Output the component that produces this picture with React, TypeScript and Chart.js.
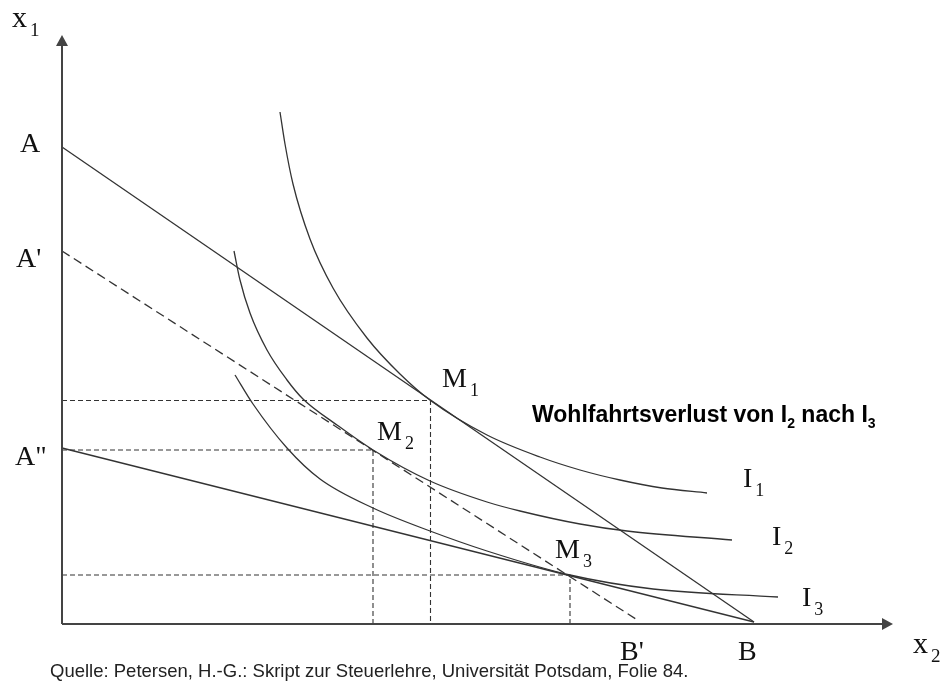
import React, { useEffect, useRef } from "react";
import { Chart, registerables } from "chart.js";

Chart.register(...registerables);

// ---- Data (x = quantity x2, y = quantity x1) ----
const lineAB = [ { x: 0, y: 47.7 }, { x: 69.2, y: 0.2 } ];
const lineApBp = [ { x: 0, y: 37.3 }, { x: 57.7, y: 0.3 } ];
const lineAppB = [ { x: 0, y: 17.6 }, { x: 69.2, y: 0.2 } ];

const I1x = [21.8, 22.3, 23.1, 24.8, 27.1, 30.5, 33.8, 36.85, 42.5, 47.8, 51.8, 55.8, 60.0, 64.5];
const I1y = [51.2, 48.0, 44.0, 38.5, 33.6, 28.6, 25.0, 22.35, 18.9, 16.7, 15.4, 14.4, 13.6, 13.1];

const I2x = [17.2, 17.8, 18.8, 20.5, 22.5, 24.1, 27.5, 31.1, 36.8, 42.5, 45.8, 51.8, 56.5, 67.0];
const I2y = [37.3, 34.4, 31.1, 27.4, 24.4, 22.5, 19.9, 17.4, 14.3, 12.2, 11.3, 10.0, 9.3, 8.4];

const I3x = [17.3, 19.1, 22.5, 25.8, 31.1, 36.8, 42.5, 50.8, 59.1, 71.6];
const I3y = [24.9, 22.0, 17.6, 14.5, 11.6, 9.3, 7.3, 4.9, 3.5, 2.7];

const optimaNames = ["M1", "M2", "M3"];
const optimaX = [36.85, 31.1, 50.8];
const optimaY = [22.35, 17.4, 4.9];

const axisXEnd = 83.1;
const axisYEnd = 58.9;

const toPts = (xs: number[], ys: number[]) => xs.map((x, i) => ({ x, y: ys[i] }));

// ---- Styles ----
const INK = "#333333";
const AXIS = "#444444";
const SERIF = '"Liberation Serif", "Times New Roman", serif';
const SANS = '"Liberation Sans", Arial, sans-serif';

type Lbl = { base: string; sub?: string; x: number; y: number; size?: number };
// label positions in canvas pixels (left, baseline)
const labels: Lbl[] = [
  { base: "x", sub: "1", x: 12, y: 27, size: 30 },
  { base: "A", x: 20, y: 152 },
  { base: "A'", x: 16, y: 267 },
  { base: "A\"", x: 15, y: 465 },
  { base: "M", sub: "1", x: 442, y: 387 },
  { base: "M", sub: "2", x: 377, y: 440 },
  { base: "M", sub: "3", x: 555, y: 558 },
  { base: "I", sub: "1", x: 743, y: 487 },
  { base: "I", sub: "2", x: 772, y: 545 },
  { base: "I", sub: "3", x: 802, y: 606 },
  { base: "B'", x: 620, y: 660 },
  { base: "B", x: 738, y: 660 },
  { base: "x", sub: "2", x: 913, y: 653, size: 30 },
];

const overlay = {
  id: "overlay",
  afterDatasetsDraw(chart: any) {
    const ctx = chart.ctx as CanvasRenderingContext2D;
    const xs = chart.scales.x;
    const ys = chart.scales.y;
    const ox = xs.getPixelForValue(0);
    const oy = ys.getPixelForValue(0);
    ctx.save();
    // arrow heads
    ctx.fillStyle = AXIS;
    const ty = ys.getPixelForValue(axisYEnd);
    ctx.beginPath();
    ctx.moveTo(ox, ty);
    ctx.lineTo(ox - 6, ty + 11);
    ctx.lineTo(ox + 6, ty + 11);
    ctx.closePath();
    ctx.fill();
    const tx = xs.getPixelForValue(axisXEnd);
    ctx.beginPath();
    ctx.moveTo(tx, oy);
    ctx.lineTo(tx - 11, oy - 6);
    ctx.lineTo(tx - 11, oy + 6);
    ctx.closePath();
    ctx.fill();

    // serif labels
    ctx.fillStyle = "#111111";
    ctx.textBaseline = "alphabetic";
    ctx.textAlign = "left";
    for (const l of labels) {
      const size = l.size ?? 28;
      ctx.font = `${size}px ${SERIF}`;
      ctx.fillText(l.base, l.x, l.y);
      if (l.sub) {
        const w = ctx.measureText(l.base).width;
        ctx.font = `${Math.round(size * 0.64)}px ${SERIF}`;
        ctx.fillText(l.sub, l.x + w + 3, l.y + 9);
      }
    }

    // bold annotation
    const parts: [string, boolean][] = [
      ["Wohlfahrtsverlust von I", false],
      ["2", true],
      [" nach I", false],
      ["3", true],
    ];
    let cx = 532;
    const by = 422;
    ctx.fillStyle = "#000000";
    for (const [t, sub] of parts) {
      ctx.font = sub ? `bold 14px ${SANS}` : `bold 23px ${SANS}`;
      ctx.fillText(t, cx, sub ? by + 6 : by);
      cx += ctx.measureText(t).width;
    }

    // source caption
    ctx.fillStyle = "#222222";
    ctx.font = `18.5px ${SANS}`;
    ctx.fillText(
      "Quelle: Petersen, H.-G.: Skript zur Steuerlehre, Universität Potsdam, Folie 84.",
      50,
      677
    );
    ctx.restore();
  },
};

export default function App() {
  const ref = useRef<HTMLCanvasElement | null>(null);
  useEffect(() => {
    if (!ref.current) return;
    const solid = (data: any[], extra: any = {}) => ({
      data,
      showLine: true,
      borderColor: INK,
      borderWidth: 1.3,
      pointRadius: 0,
      fill: false,
      ...extra,
    });
    const curve = { cubicInterpolationMode: "monotone" };
    const guides: any[] = [];
    optimaNames.forEach((_, i) => {
      guides.push(
        solid(
          [
            { x: 0, y: optimaY[i] },
            { x: optimaX[i], y: optimaY[i] },
            { x: optimaX[i], y: 0 },
          ],
          { borderDash: [5, 3], borderWidth: 1.1 }
        )
      );
    });
    const chart = new Chart(ref.current, {
      type: "scatter",
      data: {
        datasets: [
          solid([ { x: 0, y: 0 }, { x: 0, y: axisYEnd - 1 } ], { borderColor: AXIS, borderWidth: 2 }),
          solid([ { x: 0, y: 0 }, { x: axisXEnd - 1, y: 0 } ], { borderColor: AXIS, borderWidth: 2 }),
          solid(lineAB),
          solid(lineApBp, { borderDash: [9, 5] }),
          solid(lineAppB),
          solid(toPts(I1x, I1y), curve),
          solid(toPts(I2x, I2y), curve),
          solid(toPts(I3x, I3y), curve),
          ...guides,
        ],
      },
      options: {
        animation: false,
        responsive: false,
        devicePixelRatio: 1,
        layout: { padding: 0 },
        plugins: { legend: { display: false }, tooltip: { enabled: false }, title: { display: false } },
        events: [],
        scales: {
          x: { type: "linear", min: -6.2, max: 88.1, display: false },
          y: { type: "linear", min: -6.0, max: 62.4, display: false },
        },
      },
      plugins: [overlay],
    });
    return () => chart.destroy();
  }, []);
  return (
    <div style={{ position: "absolute", left: 0, top: 0, width: 943, height: 684, background: "#fff" }}>
      <canvas ref={ref} width={943} height={684} style={{ display: "block" }} />
    </div>
  );
}
